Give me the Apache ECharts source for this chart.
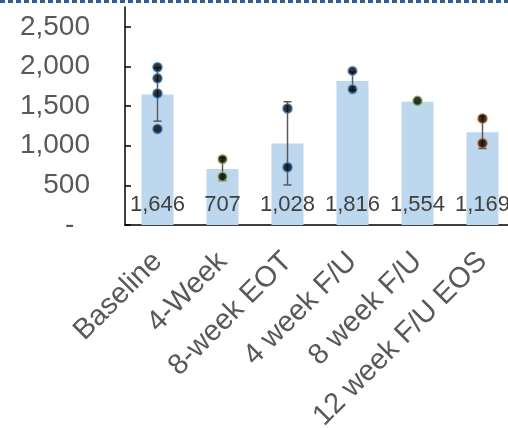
<!DOCTYPE html>
<html>
<head>
<meta charset="utf-8">
<script src="https://cdn.jsdelivr.net/npm/echarts@6/dist/echarts.min.js"></script>
<style>
  html, body { margin: 0; padding: 0; background: #fff; }
  #chart { width: 508px; height: 428px; }
</style>
</head>
<body>
<div id="chart"></div>
<script>
// Visit groups along the x axis
const categories = ['Baseline', '4-Week', '8-week EOT', '4 week F/U', '8 week F/U', '12 week F/U EOS'];
// Group means (bar heights)
const means = [1646, 707, 1028, 1816, 1554, 1169];
// Error bar extents (mean ± SD); null where there is a single observation
const errLow  = [1310, 560, 505, 1700, null, 965];
const errHigh = [1985, 850, 1555, 1930, null, 1375];
// Individual observations per group
const baselineDots = [1990, 1850, 1660, 1212];
const week4Dots = [830, 610];
const week8EotDots = [1470, 728];
const fu4Dots = [1944, 1713];
const fu8Dots = [1566];
const fu12Dots = [1342, 1031];
// Outline colour of the observation markers per group
const dotColors = ['#2E75B6', '#9BBB59', '#2E75B6', '#5B9BD5', '#70AD47', '#C55A11'];
// Y axis tick values
const yTicks = [0, 500, 1000, 1500, 2000, 2500];

const dotGroups = [baselineDots, week4Dots, week8EotDots, fu4Dots, fu8Dots, fu12Dots];

const FONT = 'Liberation Sans, Arial, sans-serif';
const fmt = v => v === 0 ? '-  ' : v.toLocaleString('en-US');

const chart = echarts.init(document.getElementById('chart'));

const errData = categories.map((c, i) => [i, errLow[i], errHigh[i]]).filter(d => d[1] != null);

const dotSeries = dotGroups.map((vals, i) => ({
  type: 'scatter',
  z: 5,
  symbol: 'circle',
  symbolSize: 9,
  itemStyle: { color: '#000', borderColor: dotColors[i], borderWidth: 1.5 },
  data: vals.map(v => [i, v]),
  silent: true
}));

chart.setOption({
  animation: false,
  graphic: [{
    type: 'line',
    shape: { x1: 0, y1: 1.5, x2: 508, y2: 1.5 },
    style: { stroke: '#2F5F8F', lineWidth: 3, lineDash: [5, 3] }
  }],
  grid: {
    left: 125, top: 7, width: 390, height: 218,
    containLabel: false,
    outerBoundsMode: 'none'
  },
  xAxis: {
    type: 'category',
    data: categories,
    axisLine: { lineStyle: { color: '#000', width: 1.5 } },
    axisTick: { show: false },
    axisLabel: {
      rotate: 45,
      interval: 0,
      margin: 32,
      padding: [20, 0, 0, 0],
      color: '#595959',
      fontFamily: FONT,
      fontSize: 29
    }
  },
  yAxis: {
    type: 'value',
    min: 0,
    max: 2750,
    interval: 500,
    splitLine: { show: false },
    axisLine: { show: true, lineStyle: { color: '#000', width: 1.5 } },
    axisTick: {
      show: true, inside: true, length: 6,
      customValues: yTicks,
      lineStyle: { color: '#000', width: 1.5 }
    },
    axisLabel: {
      customValues: yTicks,
      formatter: fmt,
      margin: 35,
      color: '#595959',
      fontFamily: FONT,
      fontSize: 28
    }
  },
  series: [
    {
      type: 'bar',
      data: means,
      barWidth: 32,
      itemStyle: { color: '#BDD7EE' },
      label: {
        show: true,
        position: 'insideBottom',
        distance: 9,
        formatter: p => p.value.toLocaleString('en-US'),
        color: '#404040',
        fontFamily: FONT,
        fontSize: 22
      },
      silent: true
    },
    {
      type: 'custom',
      z: 4,
      data: errData,
      encode: { x: 0, y: [1, 2] },
      renderItem: (params, api) => {
        const x = api.value(0);
        const lo = api.coord([x, api.value(1)]);
        const hi = api.coord([x, api.value(2)]);
        const half = 4;
        const style = { stroke: '#595959', lineWidth: 1.5 };
        return {
          type: 'group',
          children: [
            { type: 'line', shape: { x1: lo[0], y1: lo[1], x2: hi[0], y2: hi[1] }, style },
            { type: 'line', shape: { x1: lo[0] - half, y1: lo[1], x2: lo[0] + half, y2: lo[1] }, style },
            { type: 'line', shape: { x1: hi[0] - half, y1: hi[1], x2: hi[0] + half, y2: hi[1] }, style }
          ]
        };
      },
      silent: true
    },
    ...dotSeries
  ]
});
</script>
</body>
</html>
